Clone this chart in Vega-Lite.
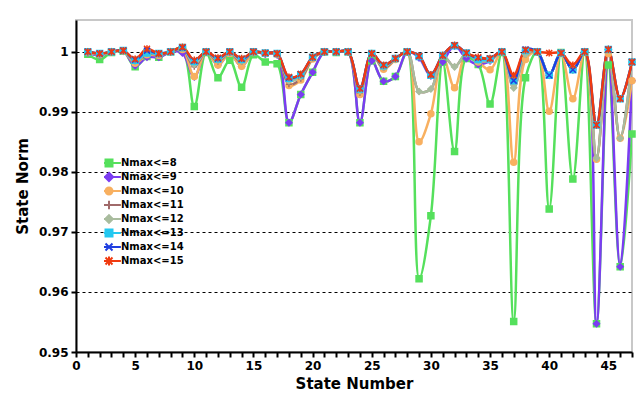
{
  "$schema": "https://vega.github.io/schema/vega-lite/v6.json",
  "width": 556,
  "height": 332,
  "autosize": {"type": "none"},
  "padding": {"left": 76, "top": 20, "right": 7, "bottom": 46},
  "background": "white",
  "config": {"font": "DejaVu Sans", "view": {"stroke": "#c8c8c8", "strokeWidth": 2}},
  "data": {"values": [
    {"state": 1, "s8": 0.9996, "s9": 0.9998, "s10": 0.9999, "s11": 1.0, "s12": 1.0, "s13": 1.0, "s14": 1.0, "s15": 1.0},
    {"state": 2, "s8": 0.9987, "s9": 0.9994, "s10": 0.9995, "s11": 0.9996, "s12": 0.9996, "s13": 0.9997, "s14": 0.9997, "s15": 0.9997},
    {"state": 3, "s8": 0.9999, "s9": 1.0, "s10": 1.0, "s11": 1.0, "s12": 1.0, "s13": 1.0, "s14": 1.0, "s15": 1.0},
    {"state": 4, "s8": 1.0001, "s9": 1.0001, "s10": 1.0001, "s11": 1.0001, "s12": 1.0001, "s13": 1.0002, "s14": 1.0002, "s15": 1.0002},
    {"state": 5, "s8": 0.9975, "s9": 0.9977, "s10": 0.9981, "s11": 0.9983, "s12": 0.9984, "s13": 0.9986, "s14": 0.9987, "s15": 0.9988},
    {"state": 6, "s8": 0.9992, "s9": 0.9991, "s10": 0.9995, "s11": 0.9997, "s12": 0.9998, "s13": 0.9998, "s14": 1.0002, "s15": 1.0005},
    {"state": 7, "s8": 0.9991, "s9": 0.9991, "s10": 0.9994, "s11": 0.9995, "s12": 0.9996, "s13": 0.9997, "s14": 0.9997, "s15": 0.9997},
    {"state": 8, "s8": 1.0, "s9": 1.0, "s10": 1.0, "s11": 1.0, "s12": 1.0, "s13": 1.0, "s14": 1.0, "s15": 1.0},
    {"state": 9, "s8": 1.0003, "s9": 0.9998, "s10": 1.0004, "s11": 1.0005, "s12": 1.0006, "s13": 1.0007, "s14": 1.0007, "s15": 1.0008},
    {"state": 10, "s8": 0.9909, "s9": 0.9958, "s10": 0.9959, "s11": 0.9975, "s12": 0.9979, "s13": 0.9984, "s14": 0.9985, "s15": 0.9986},
    {"state": 11, "s8": 0.9999, "s9": 1.0, "s10": 1.0, "s11": 1.0, "s12": 1.0, "s13": 1.0, "s14": 1.0, "s15": 1.0},
    {"state": 12, "s8": 0.9957, "s9": 0.9978, "s10": 0.9978, "s11": 0.9984, "s12": 0.9986, "s13": 0.9988, "s14": 0.9989, "s15": 0.999},
    {"state": 13, "s8": 0.9986, "s9": 0.9997, "s10": 0.9997, "s11": 0.9998, "s12": 0.9999, "s13": 1.0, "s14": 1.0, "s15": 1.0},
    {"state": 14, "s8": 0.9941, "s9": 0.9976, "s10": 0.9976, "s11": 0.9983, "s12": 0.9985, "s13": 0.9987, "s14": 0.9988, "s15": 0.9989},
    {"state": 15, "s8": 0.9995, "s9": 0.9999, "s10": 0.9999, "s11": 1.0, "s12": 1.0, "s13": 1.0, "s14": 1.0, "s15": 1.0},
    {"state": 16, "s8": 0.9983, "s9": 0.9996, "s10": 0.9997, "s11": 0.9997, "s12": 0.9998, "s13": 0.9998, "s14": 0.9998, "s15": 0.9998},
    {"state": 17, "s8": 0.998, "s9": 0.9995, "s10": 0.9996, "s11": 0.9996, "s12": 0.9997, "s13": 0.9997, "s14": 0.9997, "s15": 0.9997},
    {"state": 18, "s8": 0.9882, "s9": 0.9882, "s10": 0.9944, "s11": 0.9946, "s12": 0.9952, "s13": 0.9956, "s14": 0.9957, "s15": 0.9958},
    {"state": 19, "s8": 0.9929, "s9": 0.9929, "s10": 0.9953, "s11": 0.9955, "s12": 0.9959, "s13": 0.9962, "s14": 0.9963, "s15": 0.9963},
    {"state": 20, "s8": 0.9966, "s9": 0.9966, "s10": 0.9988, "s11": 0.9989, "s12": 0.999, "s13": 0.9991, "s14": 0.9991, "s15": 0.9991},
    {"state": 21, "s8": 1.0, "s9": 1.0, "s10": 1.0, "s11": 1.0, "s12": 1.0, "s13": 1.0, "s14": 1.0, "s15": 1.0},
    {"state": 22, "s8": 0.9999, "s9": 1.0, "s10": 1.0, "s11": 1.0, "s12": 1.0, "s13": 1.0, "s14": 1.0, "s15": 1.0},
    {"state": 23, "s8": 1.0, "s9": 1.0, "s10": 1.0, "s11": 1.0, "s12": 1.0, "s13": 1.0, "s14": 1.0, "s15": 1.0},
    {"state": 24, "s8": 0.9882, "s9": 0.9882, "s10": 0.9929, "s11": 0.9932, "s12": 0.9935, "s13": 0.9938, "s14": 0.9939, "s15": 0.9939},
    {"state": 25, "s8": 0.9985, "s9": 0.9985, "s10": 0.9997, "s11": 0.9997, "s12": 0.9997, "s13": 0.9997, "s14": 0.9997, "s15": 0.9997},
    {"state": 26, "s8": 0.9951, "s9": 0.9951, "s10": 0.9971, "s11": 0.9973, "s12": 0.9975, "s13": 0.9977, "s14": 0.9978, "s15": 0.9978},
    {"state": 27, "s8": 0.9959, "s9": 0.9959, "s10": 0.9987, "s11": 0.9988, "s12": 0.9988, "s13": 0.9989, "s14": 0.9989, "s15": 0.9989},
    {"state": 28, "s8": 1.0, "s9": 1.0, "s10": 1.0, "s11": 1.0, "s12": 1.0, "s13": 1.0, "s14": 1.0, "s15": 1.0},
    {"state": 29, "s8": 0.9622, "s9": 0.999, "s10": 0.985, "s11": 0.9934, "s12": 0.9934, "s13": 0.9992, "s14": 0.9993, "s15": 0.9993},
    {"state": 30, "s8": 0.9727, "s9": 0.996, "s10": 0.9897, "s11": 0.9938, "s12": 0.9938, "s13": 0.9961, "s14": 0.9962, "s15": 0.9962},
    {"state": 31, "s8": 0.9983, "s9": 0.9983, "s10": 0.9993, "s11": 0.9994, "s12": 0.9994, "s13": 0.9994, "s14": 0.9994, "s15": 0.9994},
    {"state": 32, "s8": 0.9834, "s9": 1.001, "s10": 0.994, "s11": 0.9975, "s12": 0.9975, "s13": 1.001, "s14": 1.0011, "s15": 1.0011},
    {"state": 33, "s8": 0.9989, "s9": 0.9989, "s10": 0.9997, "s11": 0.9997, "s12": 0.9997, "s13": 0.9998, "s14": 0.9998, "s15": 0.9998},
    {"state": 34, "s8": 0.9979, "s9": 0.9979, "s10": 0.9983, "s11": 0.9985, "s12": 0.9985, "s13": 0.9987, "s14": 0.999, "s15": 0.9991},
    {"state": 35, "s8": 0.9913, "s9": 0.9985, "s10": 0.997, "s11": 0.9985, "s12": 0.9986, "s13": 0.9988, "s14": 0.9989, "s15": 0.9989},
    {"state": 36, "s8": 0.9999, "s9": 1.0, "s10": 1.0, "s11": 1.0, "s12": 1.0, "s13": 1.0, "s14": 1.0, "s15": 1.0},
    {"state": 37, "s8": 0.9551, "s9": 0.9952, "s10": 0.9816, "s11": 0.994, "s12": 0.994, "s13": 0.9952, "s14": 0.9952, "s15": 0.9961},
    {"state": 38, "s8": 0.9957, "s9": 1.0002, "s10": 0.9987, "s11": 0.9995, "s12": 0.9996, "s13": 1.0002, "s14": 1.0004, "s15": 1.0003},
    {"state": 39, "s8": 1.0, "s9": 1.0, "s10": 1.0, "s11": 1.0, "s12": 1.0, "s13": 1.0, "s14": 1.0, "s15": 1.0},
    {"state": 40, "s8": 0.9738, "s9": 0.9961, "s10": 0.9901, "s11": 0.9961, "s12": 0.9961, "s13": 0.9961, "s14": 0.9961, "s15": 0.9998},
    {"state": 41, "s8": 0.9999, "s9": 0.9998, "s10": 0.9998, "s11": 0.9998, "s12": 0.9998, "s13": 0.9998, "s14": 0.9998, "s15": 0.9998},
    {"state": 42, "s8": 0.9788, "s9": 0.997, "s10": 0.9922, "s11": 0.997, "s12": 0.997, "s13": 0.997, "s14": 0.997, "s15": 0.9978},
    {"state": 43, "s8": 1.0, "s9": 1.0, "s10": 1.0, "s11": 1.0, "s12": 1.0, "s13": 1.0, "s14": 1.0, "s15": 1.0},
    {"state": 44, "s8": 0.9547, "s9": 0.9547, "s10": 0.9821, "s11": 0.9823, "s12": 0.9823, "s13": 0.9878, "s14": 0.9878, "s15": 0.9878},
    {"state": 45, "s8": 0.9978, "s9": 1.0004, "s10": 0.9997, "s11": 1.0004, "s12": 1.0004, "s13": 1.0004, "s14": 1.0004, "s15": 1.0004},
    {"state": 46, "s8": 0.9642, "s9": 0.9642, "s10": 0.9856, "s11": 0.9856, "s12": 0.9856, "s13": 0.9922, "s14": 0.9922, "s15": 0.9922},
    {"state": 47, "s8": 0.9863, "s9": 0.9952, "s10": 0.9952, "s11": 0.9983, "s12": 0.9983, "s13": 0.9983, "s14": 0.9983, "s15": 0.9983}
  ]},
  "transform": [{"fold": ["s8", "s9", "s10", "s11", "s12", "s13", "s14", "s15"], "as": ["series", "value"]}],
  "encoding": {
    "x": {
      "field": "state", "type": "quantitative",
      "scale": {"domain": [0, 47], "nice": false},
      "axis": {
        "title": "State Number",
        "values": [0,1,2,3,4,5,6,7,8,9,10,11,12,13,14,15,16,17,18,19,20,21,22,23,24,25,26,27,28,29,30,31,32,33,34,35,36,37,38,39,40,41,42,43,44,45,46,47],
        "labelExpr": "datum.value % 5 === 0 ? datum.label : ''",
        "labelOverlap": false, "labelFlush": false, "grid": false,
        "domainColor": "#000", "domainWidth": 2, "tickColor": "#000", "tickWidth": 2, "tickSize": 5,
        "labelFont": "DejaVu Sans", "labelFontWeight": "bold", "labelFontSize": 12, "labelColor": "#000", "labelPadding": 3,
        "titleFont": "DejaVu Sans", "titleFontWeight": "bold", "titleFontSize": 15, "titleColor": "#000", "titlePadding": 5
      }
    },
    "y": {
      "field": "value", "type": "quantitative",
      "scale": {"domain": [0.95, 1.0053], "nice": false, "zero": false},
      "axis": {
        "title": "State Norm",
        "values": [0.95, 0.96, 0.97, 0.98, 0.99, 1.0],
        "format": ".2~f",
        "grid": true, "gridColor": "#000", "gridDash": [3, 3], "gridWidth": 1,
        "domainColor": "#000", "domainWidth": 2, "tickColor": "#000", "tickWidth": 2, "tickSize": 5,
        "labelFont": "DejaVu Sans", "labelFontWeight": "bold", "labelFontSize": 12, "labelColor": "#000", "labelPadding": 3,
        "titleFont": "DejaVu Sans", "titleFontWeight": "bold", "titleFontSize": 15, "titleColor": "#000", "titlePadding": 8
      }
    },
    "color": {
      "field": "series", "type": "nominal",
      "scale": {
        "domain": ["s8", "s9", "s10", "s11", "s12", "s13", "s14", "s15"],
        "range": ["#55e05c", "#7b3cf2", "#f8b060", "#a06a6a", "#a9bc9e", "#24c8f0", "#1f3ee0", "#f03a10"]
      },
      "legend": {
        "orient": "none", "legendX": 28, "legendY": 136, "title": null, "padding": 0,
        "labelFont": "DejaVu Sans", "labelFontWeight": "bold", "labelFontSize": 10, "labelColor": "#000",
        "labelExpr": "'Nmax<=' + slice(datum.label, 1)",
        "symbolSize": 49, "labelOffset": 7, "rowPadding": 0, "clipHeight": 14,
        "encode": {"symbols": {"update": {
          "shape": {"signal": "['M-3.4,0H3.4M-1,-1H1V1H-1Z','M-3.4,0H3.4M0,-1.2L1.2,0L0,1.2L-1.2,0Z','M-3.4,0H3.4M1,0A1,1,0,1,1,-1,0A1,1,0,1,1,1,0Z','M-3.4,0H3.4M0,-1.2V1.2','M-3.4,0H3.4M0,-1.1L1.1,0L0,1.1L-1.1,0Z','M-3.4,0H3.4M-1,-1H1V1H-1Z','M-3.4,0H3.4M-1,-1L1,1M-1,1L1,-1','M-3.4,0H3.4M-1,-1L1,1M-1,1L1,-1M0,-1.3V1.3'][indexof(domain('color'), datum.value)]"},
          "fill": {"signal": "scale('color', datum.value)"},
          "stroke": {"signal": "scale('color', datum.value)"},
          "strokeWidth": {"value": 2},
          "opacity": {"value": 1}
        }}}
      }
    }
  },
  "layer": [
    {
      "mark": {"type": "line", "interpolate": "catmull-rom", "strokeWidth": 2.5, "clip": true}
    },
    {
      "mark": {"type": "point", "filled": true, "size": 36, "strokeWidth": 1.5, "opacity": 1},
      "encoding": {
        "stroke": {
          "field": "series", "type": "nominal", "legend": null,
          "scale": {
            "domain": ["s8", "s9", "s10", "s11", "s12", "s13", "s14", "s15"],
            "range": ["#55e05c", "#7b3cf2", "#f8b060", "#a06a6a", "#a9bc9e", "#24c8f0", "#1f3ee0", "#f03a10"]
          }
        },
        "shape": {
          "condition": [
            {"test": "datum.series === 's8' || datum.series === 's13'", "value": "square"},
            {"test": "datum.series === 's9' || datum.series === 's12'", "value": "diamond"},
            {"test": "datum.series === 's10'", "value": "circle"},
            {"test": "datum.series === 's11'", "value": "M-1,0H1M0,-1V1"},
            {"test": "datum.series === 's14'", "value": "M-1,-1L1,1M-1,1L1,-1"}
          ],
          "value": "M-1,-1L1,1M-1,1L1,-1M0,-1.2V1.2"
        }
      }
    }
  ]
}
